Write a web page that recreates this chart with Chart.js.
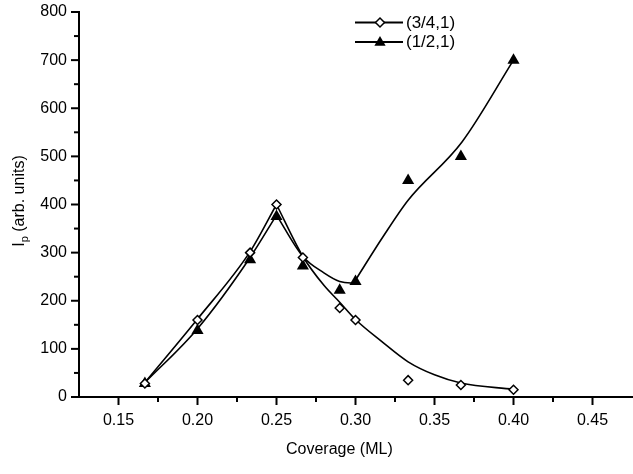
<!DOCTYPE html>
<html><head><meta charset="utf-8">
<script src="https://cdn.jsdelivr.net/npm/chart.js@4/dist/chart.umd.min.js"></script>
<style>html,body{margin:0;padding:0;background:#fff}#wrap{width:633px;height:474px;position:relative}</style>
</head><body><div id="wrap"><canvas id="c" width="633" height="474"></canvas></div>
<script>
// Measured points
const coverage = [0.1667, 0.2, 0.2333, 0.25, 0.2667, 0.29, 0.30, 0.3333, 0.3667, 0.40];
const i34 = [28, 160, 300, 400, 290, 185, 160, 35, 25, 15];
const i12 = [28, 138, 285, 375, 272, 222, 240, 450, 500, 700];
// Fitted guide curves
const fit34LeftX = [0.1667, 0.2, 0.2333, 0.25];
const fit34LeftY = [30, 162, 302, 400];
const fit34RightX = [0.25, 0.2667, 0.28, 0.29, 0.30, 0.3167, 0.3333, 0.35, 0.3667, 0.40];
const fit34RightY = [400, 292, 232, 197, 161, 115, 73, 46, 29, 16];
const fit12LeftX = [0.1667, 0.2, 0.2333, 0.25];
const fit12LeftY = [30, 142, 290, 378];
const fit12MidX = [0.25, 0.2667, 0.28, 0.29, 0.297, 0.30];
const fit12MidY = [378, 292, 258, 240, 237, 243];
const fit12RightX = [0.30, 0.3174, 0.3333, 0.3674, 0.40];
const fit12RightY = [243, 333, 409, 530, 700];
// Axes
const xMin = 0.125, xMax = 0.4712;
const xTicks = [0.15, 0.20, 0.25, 0.30, 0.35, 0.40, 0.45];
const xMinor = [0.175, 0.225, 0.275, 0.325, 0.375, 0.425];
const yTicks = [0, 100, 200, 300, 400, 500, 600, 700, 800];
const yMinor = [50, 150, 250, 350, 450, 550, 650, 750];
const seriesNames = ['(3/4,1)', '(1/2,1)'];
const xTitle = 'Coverage (ML)';
const yTitleMain = 'I', yTitleSub = 'p', yTitleRest = ' (arb. units)';

const FONT = '"Liberation Sans", Arial, Helvetica, sans-serif';
const pts = (xs, ys) => xs.map((x, i) => ({x, y: ys[i]}));
const lineDs = (xs, ys) => ({type: 'line', data: pts(xs, ys), borderColor: '#000', borderWidth: 1.6,
  pointRadius: 0, fill: false, cubicInterpolationMode: 'monotone', order: 2});

function drawDiamond(ctx, x, y, r) {
  ctx.beginPath(); ctx.moveTo(x - r, y); ctx.lineTo(x, y - r); ctx.lineTo(x + r, y); ctx.lineTo(x, y + r); ctx.closePath();
  ctx.fillStyle = '#fff'; ctx.fill(); ctx.lineWidth = 1.5; ctx.strokeStyle = '#000'; ctx.stroke();
}
function drawTri(ctx, x, y, r) {
  ctx.beginPath(); ctx.moveTo(x, y - r); ctx.lineTo(x + r * 0.866, y + r * 0.5); ctx.lineTo(x - r * 0.866, y + r * 0.5); ctx.closePath();
  ctx.fillStyle = '#000'; ctx.fill();
}

const decor = {
  id: 'decor',
  afterDraw(chart) {
    const ctx = chart.ctx, xs = chart.scales.x, ys = chart.scales.y;
    const ca = chart.chartArea;
    ctx.save();
    ctx.strokeStyle = '#000'; ctx.lineWidth = 2;
    // axis line continues to the page edge
    ctx.beginPath(); ctx.moveTo(ca.right - 1, ca.bottom); ctx.lineTo(chart.width, ca.bottom); ctx.stroke();
    xTicks.forEach(v => { const p = xs.getPixelForValue(v); ctx.beginPath(); ctx.moveTo(p, ca.bottom); ctx.lineTo(p, ca.bottom + 8); ctx.stroke(); });
    xMinor.forEach(v => { const p = xs.getPixelForValue(v); ctx.beginPath(); ctx.moveTo(p, ca.bottom); ctx.lineTo(p, ca.bottom + 5); ctx.stroke(); });
    yTicks.forEach(v => { const p = ys.getPixelForValue(v); ctx.beginPath(); ctx.moveTo(ca.left, p); ctx.lineTo(ca.left - 8, p); ctx.stroke(); });
    yMinor.forEach(v => { const p = ys.getPixelForValue(v); ctx.beginPath(); ctx.moveTo(ca.left, p); ctx.lineTo(ca.left - 5, p); ctx.stroke(); });
    // x title
    ctx.fillStyle = '#000';
    ctx.font = '16px ' + FONT; ctx.textAlign = 'left'; ctx.textBaseline = 'alphabetic';
    ctx.fillText(xTitle, 286, 454);
    // y title
    ctx.save();
    ctx.translate(24, 201); ctx.rotate(-Math.PI / 2);
    ctx.font = '16px ' + FONT;
    const wI = ctx.measureText(yTitleMain).width, wR = ctx.measureText(yTitleRest).width;
    ctx.font = '11px ' + FONT; const wS = ctx.measureText(yTitleSub).width;
    let sx = -(wI + wS + wR) / 2;
    ctx.font = '16px ' + FONT; ctx.fillText(yTitleMain, sx, 0); sx += wI;
    ctx.font = '11px ' + FONT; ctx.fillText(yTitleSub, sx, 4); sx += wS;
    ctx.font = '16px ' + FONT; ctx.fillText(yTitleRest, sx, 0);
    ctx.restore();
    // legend
    const rows = [22.5, 42];
    rows.forEach((ly, i) => {
      ctx.strokeStyle = '#000'; ctx.lineWidth = 1.8;
      ctx.beginPath(); ctx.moveTo(355, ly); ctx.lineTo(403, ly); ctx.stroke();
      if (i === 0) drawDiamond(ctx, 380, ly, 4.5); else drawTri(ctx, 380, ly + 0.5, 6.5);
      ctx.fillStyle = '#000'; ctx.font = '17px ' + FONT; ctx.textAlign = 'left'; ctx.textBaseline = 'middle';
      ctx.fillText(seriesNames[i], 406, ly + 0.5);
    });
    ctx.restore();
  }
};

new Chart(document.getElementById('c'), {
  type: 'scatter',
  data: {
    datasets: [
      {label: seriesNames[0], data: pts(coverage, i34), pointStyle: 'rectRot', pointRadius: 4.5, pointBorderWidth: 1.5,
        pointBackgroundColor: '#fff', pointBorderColor: '#000', showLine: false, order: 0},
      {label: seriesNames[1], data: pts(coverage, i12), pointStyle: 'triangle', pointRadius: 7, pointBorderWidth: 0,
        pointBackgroundColor: '#000', pointBorderColor: '#000', showLine: false, order: 1},
      lineDs(fit34LeftX, fit34LeftY), lineDs(fit34RightX, fit34RightY),
      lineDs(fit12LeftX, fit12LeftY), lineDs(fit12MidX, fit12MidY), lineDs(fit12RightX, fit12RightY)
    ]
  },
  options: {
    responsive: false, animation: false, devicePixelRatio: 1,
    layout: {padding: {top: 12, right: 0, left: 0, bottom: 0}},
    plugins: {legend: {display: false}, tooltip: {enabled: false}},
    elements: {point: {hoverRadius: 0}},
    scales: {
      x: {type: 'linear', min: xMin, max: xMax,
        afterBuildTicks: s => { s.ticks = xTicks.map(v => ({value: v})); },
        afterFit: s => { s.height = 77; s.paddingLeft = 0; s.paddingRight = 0; },
        grid: {display: true, drawOnChartArea: false, drawTicks: false},
        border: {display: true, color: '#000', width: 2},
        ticks: {padding: 14, color: '#000', font: {family: FONT, size: 16}, maxRotation: 0,
          callback: v => v.toFixed(2)}
      },
      y: {type: 'linear', min: 0, max: 800,
        afterBuildTicks: s => { s.ticks = yTicks.map(v => ({value: v})); },
        afterFit: s => { s.width = 79; s.paddingTop = 0; s.paddingBottom = 0; s.paddingLeft = 0; s.paddingRight = 0; },
        grid: {display: true, drawOnChartArea: false, drawTicks: false},
        border: {display: true, color: '#000', width: 2},
        ticks: {padding: 12, color: '#000', font: {family: FONT, size: 16}, callback: v => String(v)}
      }
    }
  },
  plugins: [decor]
});
</script></body></html>
